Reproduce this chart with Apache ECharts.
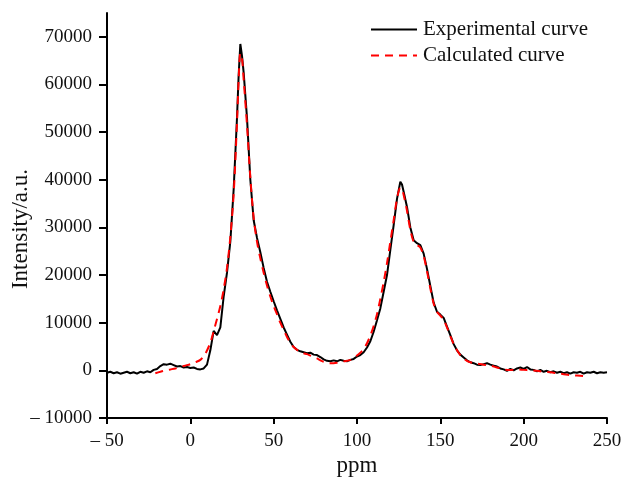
<!DOCTYPE html>
<html>
<head>
<meta charset="utf-8">
<script src="https://cdn.jsdelivr.net/npm/echarts@6/dist/echarts.min.js"></script>
<style>
  html, body { margin: 0; padding: 0; background: #fff; }
  #chart { width: 625px; height: 478px; }
</style>
</head>
<body>
<div id="chart"></div>
<script>
// experimental spectrum
const expPpm = [
  -50, -48, -46, -44, -42, -40, -38, -36, -34, -32, -30, -28, -26, -24, -22, -20,
  -18, -16, -14, -12, -10, -8, -6, -4, -2, 0, 2, 4, 6, 8, 10, 12, 14, 15, 16, 17,
  18, 20, 22, 24, 26, 28, 29, 30, 31, 32, 34, 36, 38, 40, 42, 44, 46, 48, 50, 52,
  54, 56, 58, 60, 62, 64, 66, 68, 70, 72, 74, 76, 78, 80, 82, 84, 86, 88, 90, 92,
  94, 96, 98, 100, 102, 104, 106, 108, 110, 112, 114, 116, 118, 120, 122, 124, 126,
  127, 128, 130, 132, 134, 136, 138, 140, 142, 144, 146, 148, 150, 152, 154, 156,
  158, 160, 162, 164, 166, 168, 170, 172, 174, 176, 178, 180, 182, 184, 186, 188,
  190, 192, 194, 196, 198, 200, 202, 204, 206, 208, 210, 212, 214, 216, 218, 220,
  222, 224, 226, 228, 230, 232, 234, 236, 238, 240, 242, 244, 246, 248, 250
];
const expIntensity = [
  -500, -300, -600, -400, -700, -500, -300, -600, -400, -700, -300, -500, -200, -400, 100, 300,
  900, 1300, 1200, 1400, 1100, 800, 900, 600, 700, 500, 600, 300, 200, 400, 1200, 4200, 8300, 8500, 7400, 7200,
  9000, 15500, 20500, 27000, 38000, 53000, 62000, 68500, 66000, 62500, 53000, 40000, 31500, 27800, 24800, 21500, 18600, 16500, 14500, 12600,
  10800, 9000, 7500, 6000, 4900, 4300, 4000, 3800, 3600, 3700, 3300, 3200, 2800, 2300, 2000, 1900, 2100, 1900, 2200, 2000,
  1900, 2200, 2400, 2900, 3200, 3800, 4800, 6100, 8100, 10500, 13000, 16500, 20000, 25300, 30500, 36000, 39600,
  39000, 37500, 34300, 30000, 27300, 26700, 26300, 24500, 21300, 17700, 14200, 12300, 11700, 11000, 9200, 7400,
  5500, 4200, 3300, 2700, 2100, 1700, 1500, 1200, 1100, 1300, 1500, 1200, 1000, 800, 400, 200,
  -100, 300, 0, 400, 600, 300, 700, 200, 100, -200, 100, -300, -100, -400, -200, -500,
  -300, -600, -400, -700, -400, -500, -300, -700, -400, -500, -300, -600, -400, -500, -400
];

// fitted (calculated) curve
const calcPpm = [
  -21, -18, -15, -12, -9, -6, -3, 0, 3, 6, 9, 12, 14, 16, 18, 20, 22, 24, 26, 28, 29, 30,
  31, 32, 34, 36, 38, 40, 42, 44, 46, 48, 50, 52, 54, 56, 58, 60, 62, 64, 66, 68, 70,
  72, 74, 76, 78, 80, 82, 84, 86, 88, 90, 92, 94, 96, 98, 100, 102, 104, 106, 108, 110,
  112, 114, 116, 118, 120, 122, 124, 126, 127, 128, 130, 132, 134, 136, 138, 140, 142,
  144, 146, 148, 150, 152, 154, 156, 158, 160, 162, 164, 166, 168, 172, 176, 180, 184,
  188, 192, 196, 200, 204, 208, 212, 216, 220, 224, 228, 232, 236, 237
];
const calcIntensity = [
  -600, -300, 0, 200, 400, 700, 1000, 1300, 1700, 2200, 3500, 5800, 8200, 10800, 13500, 17000, 21500, 28000, 37000, 52000, 61000, 66500,
  65500, 61000, 51500, 40500, 32000, 27000, 23500, 20500, 17800, 15500, 13500, 11800, 10000, 8500, 7000, 5800, 4900, 4300, 3900, 3600, 3400,
  3100, 2800, 2500, 2100, 1800, 1600, 1500, 1500, 1600, 1800, 1900, 2000, 2200, 2600, 3100, 3700, 4500, 5700, 7300, 9300,
  11800, 15000, 18500, 22500, 27000, 31500, 36000, 38300, 38000, 36800, 33500, 29500, 27000, 26300, 25800, 24000, 20800,
  17200, 14000, 12300, 11500, 10600, 9000, 7200, 5500, 4200, 3200, 2500, 2000, 1700, 1400, 1200, 1000, 600,
  200, 100, 200, 100, 0, -100, -300, -400, -600, -800, -1000, -1100, -1200, -1250
];

const yTicks = [-10000, 0, 10000, 20000, 30000, 40000, 50000, 60000, 70000];

const serif = "'Liberation Serif', 'DejaVu Serif', serif";

function fmtNeg(v) {
  return v < 0 ? "\u2013 " + Math.abs(v) : String(v);
}

const chart = echarts.init(document.getElementById("chart"));

chart.setOption({
  animation: false,
  grid: { left: 107, right: 18, top: 13, bottom: 60, outerBoundsMode: "none" },
  legend: {
    orient: "vertical",
    left: 370,
    top: 19,
    padding: 0,
    itemWidth: 46,
    itemHeight: 14,
    itemGap: 5,
    itemStyle: { opacity: 0 },
    textStyle: { fontFamily: serif, fontSize: 21, color: "#111", padding: [0, 0, 0, 1] },
    data: ["Experimental curve", "Calculated curve"],
  },
  xAxis: {
    type: "value",
    min: -50,
    max: 250,
    interval: 50,
    name: "ppm",
    nameLocation: "middle",
    nameGap: 36,
    nameMoveOverlap: false,
    nameTextStyle: { fontFamily: serif, fontSize: 23, color: "#111" },
    axisLine: { onZero: false, lineStyle: { color: "#000", width: 2 } },
    axisTick: { length: 6, lineStyle: { color: "#000", width: 2 } },
    axisLabel: { fontFamily: serif, fontSize: 19, color: "#111", margin: 14, formatter: fmtNeg },
    splitLine: { show: false },
  },
  yAxis: {
    type: "value",
    min: -10000,
    max: 75000,
    name: "Intensity/a.u.",
    nameLocation: "middle",
    nameGap: 75,
    nameMoveOverlap: false,
    nameTextStyle: { fontFamily: serif, fontSize: 23, color: "#111", padding: [0, 27, 0, 0] },
    axisLine: { show: true, onZero: false, lineStyle: { color: "#000", width: 2 } },
    axisTick: { show: true, length: 8, customValues: yTicks, lineStyle: { color: "#000", width: 2 } },
    axisLabel: { fontFamily: serif, fontSize: 19, color: "#111", margin: 15, customValues: yTicks, formatter: fmtNeg },
    splitLine: { show: false },
  },
  series: [
    {
      name: "Experimental curve",
      type: "line",
      showSymbol: false,
      symbol: "none",
      data: expPpm.map((p, i) => [p, expIntensity[i]]),
      lineStyle: { color: "#000", width: 2 },
      itemStyle: { color: "#000" },
      z: 2,
    },
    {
      name: "Calculated curve",
      type: "line",
      showSymbol: false,
      symbol: "none",
      smooth: 0.3,
      data: calcPpm.map((p, i) => [p, calcIntensity[i]]),
      lineStyle: { color: "#ff0000", width: 2, type: [8, 6] },
      itemStyle: { color: "#ff0000" },
      z: 3,
    },
  ],
});
</script>
</body>
</html>
